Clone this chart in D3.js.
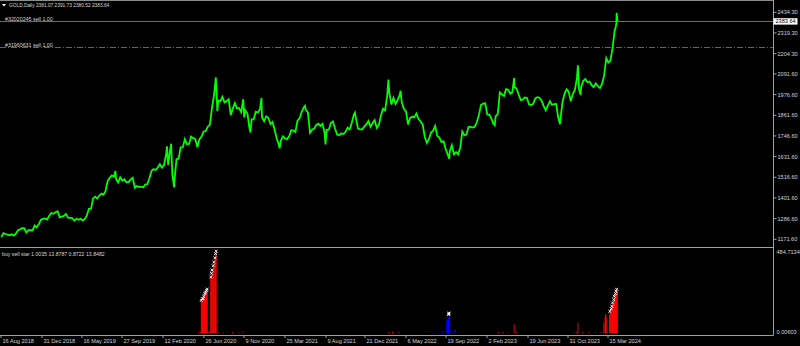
<!DOCTYPE html>
<html>
<head>
<meta charset="utf-8">
<script src="https://cdn.jsdelivr.net/npm/d3@7"></script>
<style>
  body { margin: 0; background: #000; }
  svg { display: block; }
  text { font-family: "Liberation Sans", Arial, sans-serif; font-size: 5.6px; fill: #d4d4d4; }
</style>
</head>
<body>
<div id="chart"></div>
<script>
var width = 800,
    height = 346,
    axisX = 773.5,
    mainBottom = 247.5,
    subBottom = 335.5;

// weekly closes (friday)
var closes2018 = [1184, 1206, 1201, 1198, 1194, 1199, 1192, 1203, 1222, 1227, 1233, 1233, 1209, 1222, 1223, 1222, 1248, 1238, 1256, 1280];
var closes2019 = [1285, 1288, 1282, 1303, 1318, 1314, 1322, 1328, 1294, 1298, 1302, 1313, 1292, 1291, 1290, 1275, 1286, 1280, 1286, 1277, 1284, 1305, 1341, 1341, 1399, 1409,
                  1399, 1415, 1426, 1419, 1440, 1497, 1513, 1527, 1520, 1507, 1488, 1517, 1497, 1505, 1489, 1490, 1505, 1514, 1459, 1468, 1462, 1464, 1460, 1476, 1478, 1511];
var closes2020 = [1552, 1562, 1557, 1571, 1589, 1570, 1584, 1643, 1585, 1673, 1530, 1498, 1617, 1620, 1683, 1683, 1729, 1700, 1702, 1743, 1734, 1730, 1684, 1729, 1743, 1771,
                  1774, 1798, 1810, 1902, 1975, 2035, 1944, 1940, 1964, 1933, 1940, 1950, 1862, 1900, 1930, 1899, 1902, 1879, 1951, 1889, 1871, 1788, 1839, 1839, 1881, 1877];
var closes2021 = [1895, 1849, 1828, 1856, 1848, 1813, 1824, 1784, 1734, 1700, 1720, 1745, 1733, 1729, 1744, 1777, 1777, 1769, 1831, 1844, 1881, 1905, 1891, 1877, 1764, 1781, 1787,
                  1808, 1815, 1802, 1814, 1763, 1780, 1781, 1818, 1827, 1788, 1754, 1750, 1761, 1757, 1768, 1793, 1783, 1818, 1865, 1846, 1788, 1783, 1783, 1798, 1811, 1829];
var closes2022 = [1797, 1818, 1835, 1791, 1808, 1860, 1898, 1889, 1970, 1988, 1921, 1958, 1925, 1946, 1975, 1932, 1897, 1883, 1811, 1847, 1853, 1851, 1871, 1840, 1827, 1811,
                  1742, 1708, 1727, 1766, 1775, 1802, 1747, 1737, 1712, 1717, 1675, 1644, 1661, 1695, 1644, 1657, 1644, 1681, 1771, 1751, 1754, 1797, 1797, 1793, 1798, 1824];
var closes2023 = [1865, 1920, 1926, 1928, 1865, 1865, 1842, 1811, 1856, 1868, 1989, 1978, 1969, 2007, 2004, 1982, 1990, 2017, 2011, 1977, 1946, 1948, 1961, 1958, 1921, 1919,
                  1925, 1955, 1962, 1959, 1943, 1914, 1889, 1915, 1940, 1919, 1924, 1925, 1848, 1833, 1932, 1981, 2006, 1993, 1940, 1981, 2002, 2072, 2004, 2019, 2053, 2063];
var closes2024 = [2045, 2049, 2029, 2018, 2039, 2024, 2013, 2036, 2083, 2179, 2155, 2165, 2232, 2329];
var yearStarts = ["2018-08-17", "2019-01-04", "2020-01-03", "2021-01-01", "2022-01-07", "2023-01-06", "2024-01-05"];

// daily extremes that stick out of the weekly line
var spikeDates = ["2019-09-04", "2020-02-24", "2020-03-09", "2020-03-19", "2020-08-06", "2020-08-11", "2020-11-09", "2020-11-30", "2021-01-06", "2021-03-08",
                  "2021-06-01", "2021-08-09", "2021-11-16", "2022-03-08", "2022-04-18", "2022-09-28", "2023-02-28", "2023-05-04", "2023-10-05",
                  "2023-12-04", "2023-12-13", "2024-04-09", "2024-04-11", "2024-04-12", "2024-04-15"];
var spikePrices = [1552, 1689, 1703, 1460, 2072, 1885, 1850, 1766, 1958, 1678,
                   1914, 1700, 1876, 2060, 1998, 1620, 1805, 2068, 1812,
                   2140, 1975, 2352, 2372, 2431, 2383.64];

var priceTicks = ["2434.30", "2319.30", "2204.30", "2091.60", "1976.60", "1861.60", "1746.60", "1631.60", "1516.60", "1401.60", "1286.60", "1171.60"];
var timeTicks = ["2018-08-16", "2018-12-31", "2019-05-16", "2019-09-27", "2020-02-12", "2020-06-26", "2020-11-09", "2021-03-25",
                 "2021-08-09", "2021-12-21", "2022-05-06", "2022-09-19", "2023-02-02", "2023-06-19", "2023-10-31", "2024-03-15"];
var lastClose = 2383.64;

var orderNames = ["#32020245 sell 1.00", "#31960631 sell 1.00"];
var orderPrices = [2383.64, 2241.0];

// buy sell star indicator
var redDates = ["2020-06-08", "2020-06-15", "2020-06-18", "2020-06-19", "2020-06-22", "2020-06-23", "2020-06-24", "2020-06-25", "2020-06-26", "2020-06-29", "2020-06-30",
                "2020-07-01", "2020-07-02", "2020-07-03", "2020-07-06", "2020-07-07", "2020-07-08", "2020-07-13", "2020-07-16",
                "2020-07-20", "2020-07-21", "2020-07-22", "2020-07-23", "2020-07-24", "2020-07-27", "2020-07-28", "2020-07-29", "2020-07-30", "2020-07-31",
                "2020-08-03", "2020-08-04", "2020-08-05", "2020-08-06", "2020-08-07", "2020-08-17", "2020-08-31", "2020-09-14", "2020-10-01", "2020-10-20", "2020-11-05",
                "2022-03-08", "2022-03-22", "2022-04-12", "2023-03-13", "2023-03-27", "2023-04-13", "2023-05-04", "2023-05-11",
                "2023-11-20", "2023-11-30", "2023-12-04", "2023-12-20", "2024-01-10", "2024-02-01", "2024-02-20", "2024-02-29",
                "2024-03-04", "2024-03-05", "2024-03-06", "2024-03-07", "2024-03-08",
                "2024-03-19", "2024-03-20", "2024-03-21", "2024-03-22", "2024-03-25", "2024-03-26", "2024-03-27", "2024-03-28", "2024-03-29",
                "2024-04-01", "2024-04-02", "2024-04-03", "2024-04-04", "2024-04-05", "2024-04-08", "2024-04-09", "2024-04-10", "2024-04-11", "2024-04-12", "2024-04-15"];
var redValues = [5, 6, 190, 196, 200, 205, 198, 210, 215, 222, 230,
                 236, 240, 245, 250, 255, 258, 8, 10,
                 330, 345, 352, 360, 372, 385, 398, 410, 420, 432,
                 445, 458, 470, 478, 484.7, 6, 5, 4, 5, 4, 5,
                 5, 6, 5, 5, 6, 5, 52, 6,
                 5, 6, 62, 5, 5, 6, 6, 60,
                 88, 110, 95, 112, 92,
                 118, 125, 135, 130, 140, 148, 155, 165, 175,
                 185, 195, 205, 215, 222, 230, 238, 245, 252, 257, 250];
var blueDates = ["2022-07-11", "2022-08-01", "2022-08-22", "2022-09-06", "2022-09-20", "2022-09-21", "2022-09-22", "2022-09-23", "2022-09-26", "2022-09-27", "2022-09-28",
                 "2022-09-29", "2022-09-30", "2022-10-10", "2022-10-18", "2022-10-20", "2022-11-01", "2022-11-15"];
var blueValues = [4, 5, 4, 6, 70, 78, 75, 80, 88, 95, 100, 96, 92, 6, 24, 20, 5, 4];
var starDates = ["2020-06-18", "2020-06-22", "2020-06-24", "2020-06-26", "2020-06-30", "2020-07-02", "2020-07-06", "2020-07-08",
                 "2020-07-20", "2020-07-22", "2020-07-24", "2020-07-28", "2020-07-30", "2020-08-03", "2020-08-05", "2020-08-07",
                 "2022-09-26", "2022-09-27", "2022-09-28",
                 "2024-03-20", "2024-03-25", "2024-03-27", "2024-03-29", "2024-04-02", "2024-04-04", "2024-04-08", "2024-04-10", "2024-04-12"];
var starValues = [195, 205, 205, 220, 235, 245, 255, 263,
                  335, 357, 377, 403, 425, 450, 475, 490,
                  110, 115, 120,
                  130, 145, 160, 180, 200, 220, 235, 250, 262];

var parse = d3.timeParse("%Y-%m-%d"),
    fmt = d3.timeFormat("%-d %b %Y");

var prices = [];
[closes2018, closes2019, closes2020, closes2021, closes2022, closes2023, closes2024].forEach(function(arr, k) {
  var start = parse(yearStarts[k]);
  arr.forEach(function(v, i) {
    prices.push({date: d3.timeDay.offset(start, 7 * i), close: v});
  });
});
spikeDates.forEach(function(d, i) {
  prices.push({date: parse(d), close: spikePrices[i]});
});
prices.sort(function(a, b) { return a.date - b.date; });

var x = d3.scaleTime()
  .domain([parse("2018-08-16"), parse("2024-03-15")])
  .range([1, 608.3]);

var y = d3.scaleLinear()
  .domain([1171.6, 2434.3])
  .range([239.3, 12.3]);

var yi = d3.scaleLinear()
  .domain([0, 484.7134])
  .range([333, 252]);

var svg = d3.select("#chart").append("svg")
  .attr("width", width)
  .attr("height", height);

svg.append("rect").attr("width", width).attr("height", height).attr("fill", "#000");

// order lines
svg.append("line")
  .attr("x1", 0).attr("x2", axisX)
  .attr("y1", Math.round(y(orderPrices[0])) + 0.5).attr("y2", Math.round(y(orderPrices[0])) + 0.5)
  .attr("stroke", "#4d7f4d").attr("stroke-width", 1);
svg.append("line")
  .attr("x1", 0).attr("x2", axisX)
  .attr("y1", Math.round(y(orderPrices[1])) + 0.5).attr("y2", Math.round(y(orderPrices[1])) + 0.5)
  .attr("stroke", "#2f8a2f").attr("stroke-width", 1)
  .attr("stroke-dasharray", "6,2,1,2");

orderNames.forEach(function(n, i) {
  svg.append("text")
    .attr("x", 5)
    .attr("y", Math.round(y(orderPrices[i])) - 0.5)
    .style("font-size", "5.3px")
    .text(n);
});

// price line
var line = d3.line()
  .x(function(d) { return x(d.date); })
  .y(function(d) { return y(d.close); });

svg.append("path")
  .datum(prices)
  .attr("d", line)
  .attr("fill", "none")
  .attr("stroke", "#00ff00")
  .attr("stroke-width", 1.8)
  .attr("stroke-linejoin", "miter");

// header
svg.append("path")
  .attr("d", "M2,4 L6,4 L4,6.5 Z")
  .attr("fill", "#ffffff");
svg.append("text")
  .attr("x", 9).attr("y", 7)
  .style("font-size", "4.8px")
  .text("GOLD,Daily  2381.07 2391.73 2380.52 2383.64");

// frame
svg.append("line").attr("x1", 0).attr("x2", axisX).attr("y1", 0.5).attr("y2", 0.5).attr("stroke", "#8c8c8c");
svg.append("line").attr("x1", axisX).attr("x2", axisX).attr("y1", 0).attr("y2", subBottom).attr("stroke", "#a0a0a0");
svg.append("line").attr("x1", 0).attr("x2", axisX).attr("y1", mainBottom).attr("y2", mainBottom).attr("stroke", "#a0a0a0");
svg.append("line").attr("x1", 0).attr("x2", axisX).attr("y1", subBottom).attr("y2", subBottom).attr("stroke", "#a0a0a0");

// price axis
var pt = svg.append("g").selectAll("g")
  .data(priceTicks)
  .enter().append("g")
  .attr("transform", function(d) { return "translate(" + axisX + "," + y(+d) + ")"; });
pt.append("line").attr("x2", 3).attr("stroke", "#a0a0a0");
pt.append("text").attr("x", 4).attr("dy", "0.35em").text(function(d) { return d; });

// current price box
svg.append("rect")
  .attr("x", axisX).attr("y", y(lastClose) - 3.2)
  .attr("width", 24).attr("height", 6.4)
  .attr("fill", "#ffffff");
svg.append("text")
  .attr("x", axisX + 2).attr("y", y(lastClose)).attr("dy", "0.35em")
  .style("fill", "#000")
  .text(lastClose.toFixed(2));

// time axis
var tt = svg.append("g").selectAll("g")
  .data(timeTicks)
  .enter().append("g")
  .attr("transform", function(d) { return "translate(" + Math.round(x(parse(d))) + "," + subBottom + ")"; });
tt.append("line").attr("y2", 2.5).attr("stroke", "#a0a0a0");
tt.append("text").attr("x", 1.5).attr("y", 7.8).text(function(d) { return fmt(parse(d)); });

// indicator panel
svg.append("text").attr("x", 2).attr("y", 256).style("font-size", "5.2px").text("buy sell star 1.0035 13.8787 0.8722 13.8482");
svg.append("text").attr("x", axisX + 3).attr("y", yi(484.7134)).attr("dy", "0.35em").text("484.7134");
svg.append("text").attr("x", axisX + 3).attr("y", yi(0)).attr("dy", "0.1em").text("0.00603");

var barW = 0.9;
svg.append("g").selectAll("rect")
  .data(redDates.map(function(d, i) { return {date: parse(d), value: redValues[i]}; }))
  .enter().append("rect")
  .attr("x", function(d) { return x(d.date) - barW / 2; })
  .attr("y", function(d) { return yi(d.value); })
  .attr("width", barW)
  .attr("height", function(d) { return yi(0) - yi(d.value); })
  .attr("fill", "#ff0000");

svg.append("g").selectAll("rect")
  .data(blueDates.map(function(d, i) { return {date: parse(d), value: blueValues[i]}; }))
  .enter().append("rect")
  .attr("x", function(d) { return x(d.date) - barW / 2; })
  .attr("y", function(d) { return yi(d.value); })
  .attr("width", barW)
  .attr("height", function(d) { return yi(0) - yi(d.value); })
  .attr("fill", "#0000ff");

svg.append("g").selectAll("path")
  .data(starDates.map(function(d, i) { return {date: parse(d), value: starValues[i]}; }))
  .enter().append("path")
  .attr("transform", function(d) { return "translate(" + x(d.date) + "," + yi(d.value) + ")"; })
  .attr("d", "M-1.4,-1.4L1.4,1.4M-1.4,1.4L1.4,-1.4")
  .attr("stroke", "#ffffff")
  .attr("stroke-width", 0.9);
</script>
</body>
</html>
